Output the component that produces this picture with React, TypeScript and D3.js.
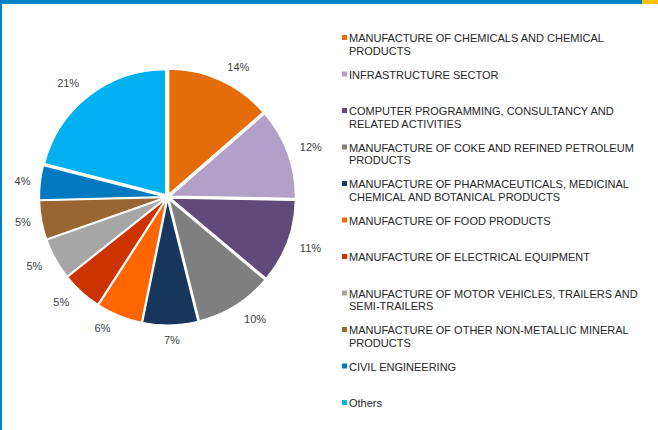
import React from "react";
import * as d3 from "d3";

const categories: string[][] = [
  ["MANUFACTURE OF CHEMICALS AND CHEMICAL", "PRODUCTS"],
  ["INFRASTRUCTURE SECTOR"],
  ["COMPUTER PROGRAMMING, CONSULTANCY AND", "RELATED ACTIVITIES"],
  ["MANUFACTURE OF COKE AND REFINED PETROLEUM", "PRODUCTS"],
  ["MANUFACTURE OF PHARMACEUTICALS, MEDICINAL", "CHEMICAL AND BOTANICAL PRODUCTS"],
  ["MANUFACTURE OF FOOD PRODUCTS"],
  ["MANUFACTURE OF ELECTRICAL EQUIPMENT"],
  ["MANUFACTURE OF MOTOR VEHICLES, TRAILERS AND", "SEMI-TRAILERS"],
  ["MANUFACTURE OF OTHER NON-METALLIC MINERAL", "PRODUCTS"],
  ["CIVIL ENGINEERING"],
  ["Others"],
];

const values: number[] = [13.6, 11.7, 10.8, 10.0, 7.1, 5.9, 5.2, 5.3, 5.0, 4.4, 21.0];
const percentLabels: string[] = ["14%", "12%", "11%", "10%", "7%", "6%", "5%", "5%", "5%", "4%", "21%"];

const colors: string[] = [
  "#E46C0A",
  "#B1A0C7",
  "#604A7B",
  "#7F7F7F",
  "#17375E",
  "#FF6600",
  "#CC3300",
  "#A6A6A6",
  "#996633",
  "#0079C1",
  "#00B0F0",
];

const W = 658;
const H = 430;
const cx = 167.5;
const cy = 197;
const R = 125;
const explode = 3;
const labelBase = 138;

export default function App() {
  const pie = d3.pie<number>().sort(null).value((d) => d);
  const arcs = pie(values);
  const arcGen = d3.arc<d3.PieArcDatum<number>>().innerRadius(0).outerRadius(R);

  const legendX = 342;
  const legendY0 = 42;
  const legendStep = 36.5;
  const lineH = 12.5;

  return (
    <div style={{ position: "fixed", left: 0, top: 0, width: W, height: H, background: "#fff" }}>
      <svg width={W} height={H} style={{ display: "block" }} fontFamily="'Liberation Sans', Arial, sans-serif">
        <rect x={0} y={0} width={W} height={H} fill="#fff" />
        <rect x={0} y={0} width={W} height={4} fill="#0080C6" />
        <rect x={642} y={0} width={16} height={4} fill="#FFC000" />
        <rect x={0} y={0} width={2} height={H} fill="#0080C6" />
        <g transform={`translate(${cx},${cy})`}>
          {arcs.map((a, i) => {
            const mid = (a.startAngle + a.endAngle) / 2;
            const dx = Math.sin(mid) * explode;
            const dy = -Math.cos(mid) * explode;
            return (
              <path
                key={i}
                d={arcGen(a) || ""}
                transform={`translate(${dx},${dy})`}
                fill={colors[i]}
                stroke="#fff"
                strokeWidth={1.2}
              />
            );
          })}
          {arcs.map((a, i) => {
            const mid = (a.startAngle + a.endAngle) / 2;
            const s = Math.sin(mid);
            const c = -Math.cos(mid);
            const w = percentLabels[i].length * 6.1;
            const h = 11;
            const ext = Math.abs(s) * (w / 2) + Math.abs(c) * (h / 2);
            const r = labelBase + ext;
            const f = Math.min(1, Math.abs(s) * 5) * Math.abs(c);
            const x = s * r + 11 * Math.sign(s) * f;
            const y = c * r - 4 * Math.sign(c) * f;
            return (
              <text
                key={"l" + i}
                x={x}
                y={y}
                dy="0.35em"
                textAnchor="middle"
                fontSize={11}
                fill="#404040"
              >
                {percentLabels[i]}
              </text>
            );
          })}
        </g>
        <g>
          {categories.map((lines, i) => {
            const by = legendY0 + i * legendStep;
            return (
              <g key={"g" + i}>
                <rect x={legendX} y={by - 7} width={5} height={5} fill={colors[i]} />
                <text x={legendX + 7} y={by} fontSize={11} fill="#262626">
                  {lines.map((t, j) => (
                    <tspan key={j} x={legendX + 7} y={by + j * lineH}>
                      {t}
                    </tspan>
                  ))}
                </text>
              </g>
            );
          })}
        </g>
      </svg>
    </div>
  );
}
